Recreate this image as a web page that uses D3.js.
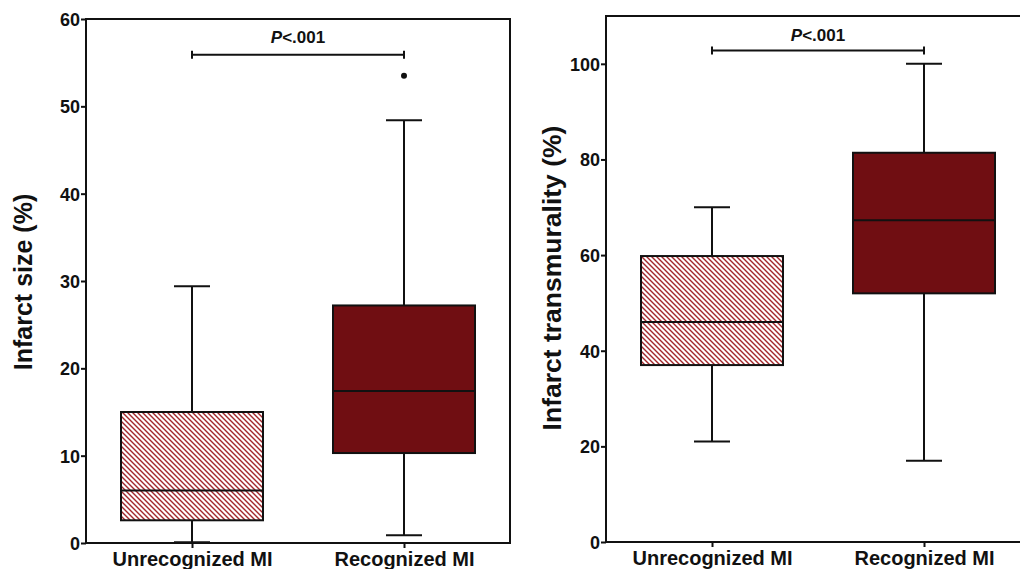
<!DOCTYPE html>
<html>
<head>
<script src="https://d3js.org/d3.v7.min.js"></script>
<style>
  body { margin:0; background:#fff; }
  svg text { font-family: "Liberation Sans", Arial, sans-serif; font-weight: bold; fill:#111; }
</style>
</head>
<body>
<div id="chart"></div>
<script>
var categories = ["Unrecognized MI", "Recognized MI"];

// [min, q1, median, q3, max]
var sizeStats = [[0.1, 2.6, 6.0, 15.0, 29.4], [0.9, 10.3, 17.4, 27.2, 48.4]];
var sizeOutliers = [[], [53.5]];
var sizeTicks = [0, 10, 20, 30, 40, 50, 60];

var transStats = [[21, 37, 46, 59.8, 70], [17, 52, 67.3, 81.4, 100]];
var transOutliers = [[], []];
var transTicks = [0, 20, 40, 60, 80, 100];

var pLabel = "<.001";

var svg = d3.select("#chart").append("svg")
    .attr("width", 1020).attr("height", 569);

var defs = svg.append("defs");
var pat = defs.append("pattern")
    .attr("id", "hatch")
    .attr("patternUnits", "userSpaceOnUse")
    .attr("width", 5).attr("height", 5);
pat.append("rect").attr("width", 5).attr("height", 5).attr("fill", "#fff");
pat.append("path")
    .attr("d", "M-1,-1 L6,6 M-1,4 L1,6 M4,-1 L6,1")
    .attr("stroke", "#a3282c").attr("stroke-width", 1.4);

var fills = ["url(#hatch)", "#700e12"];

function panel(opt) {
  var g = svg.append("g");
  var y = d3.scaleLinear().domain(opt.domain).range([opt.bottom, opt.top]);
  var x = d3.scalePoint().domain(categories).range([opt.left, opt.right]).padding(0.5);
  var boxW = 142, capW = 36;

  // frame
  g.append("rect")
    .attr("x", opt.left).attr("y", opt.top)
    .attr("width", opt.right - opt.left).attr("height", opt.bottom - opt.top)
    .attr("fill", "none").attr("stroke", "#111").attr("stroke-width", 2);

  var yAxis = g.append("g")
    .attr("transform", "translate(" + opt.left + ",0)")
    .call(d3.axisLeft(y).tickValues(opt.ticks).tickSize(5).tickPadding(1));
  var xAxis = g.append("g")
    .attr("transform", "translate(0," + opt.bottom + ")")
    .call(d3.axisBottom(x).tickSize(5).tickPadding(4));
  [yAxis, xAxis].forEach(function(a) {
    a.select(".domain").remove();
    a.selectAll("line").attr("stroke", "#111").attr("stroke-width", 2);
    a.selectAll("text").attr("fill", "#111");
  });
  yAxis.selectAll("text").style("font-size", "18px").attr("dy", "0.36em");
  xAxis.selectAll("text").style("font-size", "20px").attr("dy", "0.72em");

  var boxes = g.selectAll(".box").data(opt.stats).enter().append("g");
  boxes.each(function(s, i) {
    var b = d3.select(this), cx = x(categories[i]);
    b.append("line").attr("x1", cx).attr("x2", cx).attr("y1", y(s[0])).attr("y2", y(s[4]))
      .attr("stroke", "#111").attr("stroke-width", 2);
    [s[0], s[4]].forEach(function(v) {
      b.append("line").attr("x1", cx - capW / 2).attr("x2", cx + capW / 2)
        .attr("y1", y(v)).attr("y2", y(v)).attr("stroke", "#111").attr("stroke-width", 2);
    });
    b.append("rect").attr("x", cx - boxW / 2).attr("width", boxW)
      .attr("y", y(s[3])).attr("height", y(s[1]) - y(s[3]))
      .attr("fill", fills[i]).attr("stroke", "#111").attr("stroke-width", 2);
    b.append("line").attr("x1", cx - boxW / 2).attr("x2", cx + boxW / 2)
      .attr("y1", y(s[2])).attr("y2", y(s[2])).attr("stroke", "#111").attr("stroke-width", 2);
    opt.outliers[i].forEach(function(v) {
      b.append("circle").attr("cx", cx).attr("cy", y(v)).attr("r", 3).attr("fill", "#111");
    });
  });

  // significance bracket
  var x1 = x(categories[0]), x2 = x(categories[1]), by = y(opt.bracket);
  g.append("line").attr("x1", x1).attr("x2", x2).attr("y1", by).attr("y2", by)
    .attr("stroke", "#111").attr("stroke-width", 2);
  [x1, x2].forEach(function(xx) {
    g.append("line").attr("x1", xx).attr("x2", xx).attr("y1", by - 4).attr("y2", by + 4)
      .attr("stroke", "#111").attr("stroke-width", 2);
  });
  var t = g.append("text").attr("x", (x1 + x2) / 2).attr("y", by - opt.pGap)
    .attr("text-anchor", "middle").style("font-size", "17px");
  t.append("tspan").style("font-style", "italic").text("P");
  t.append("tspan").text(pLabel);

  g.append("text")
    .attr("transform", "translate(" + opt.titleX + "," + opt.titleY + ") rotate(-90)")
    .attr("text-anchor", "middle").style("font-size", opt.titleSize + "px")
    .text(opt.title);
}

panel({ left: 86, right: 510, top: 19, bottom: 543, domain: [0, 60], ticks: sizeTicks,
        stats: sizeStats, outliers: sizeOutliers, bracket: 55.9, pGap: 12,
        title: "Infarct size (%)", titleX: 32, titleY: 282, titleSize: 25 });
panel({ left: 606, right: 1030, top: 16, bottom: 542, domain: [0, 110], ticks: transTicks,
        stats: transStats, outliers: transOutliers, bracket: 102.8, pGap: 9,
        title: "Infarct transmurality (%)", titleX: 561, titleY: 278, titleSize: 26.5 });
</script>
</body>
</html>
